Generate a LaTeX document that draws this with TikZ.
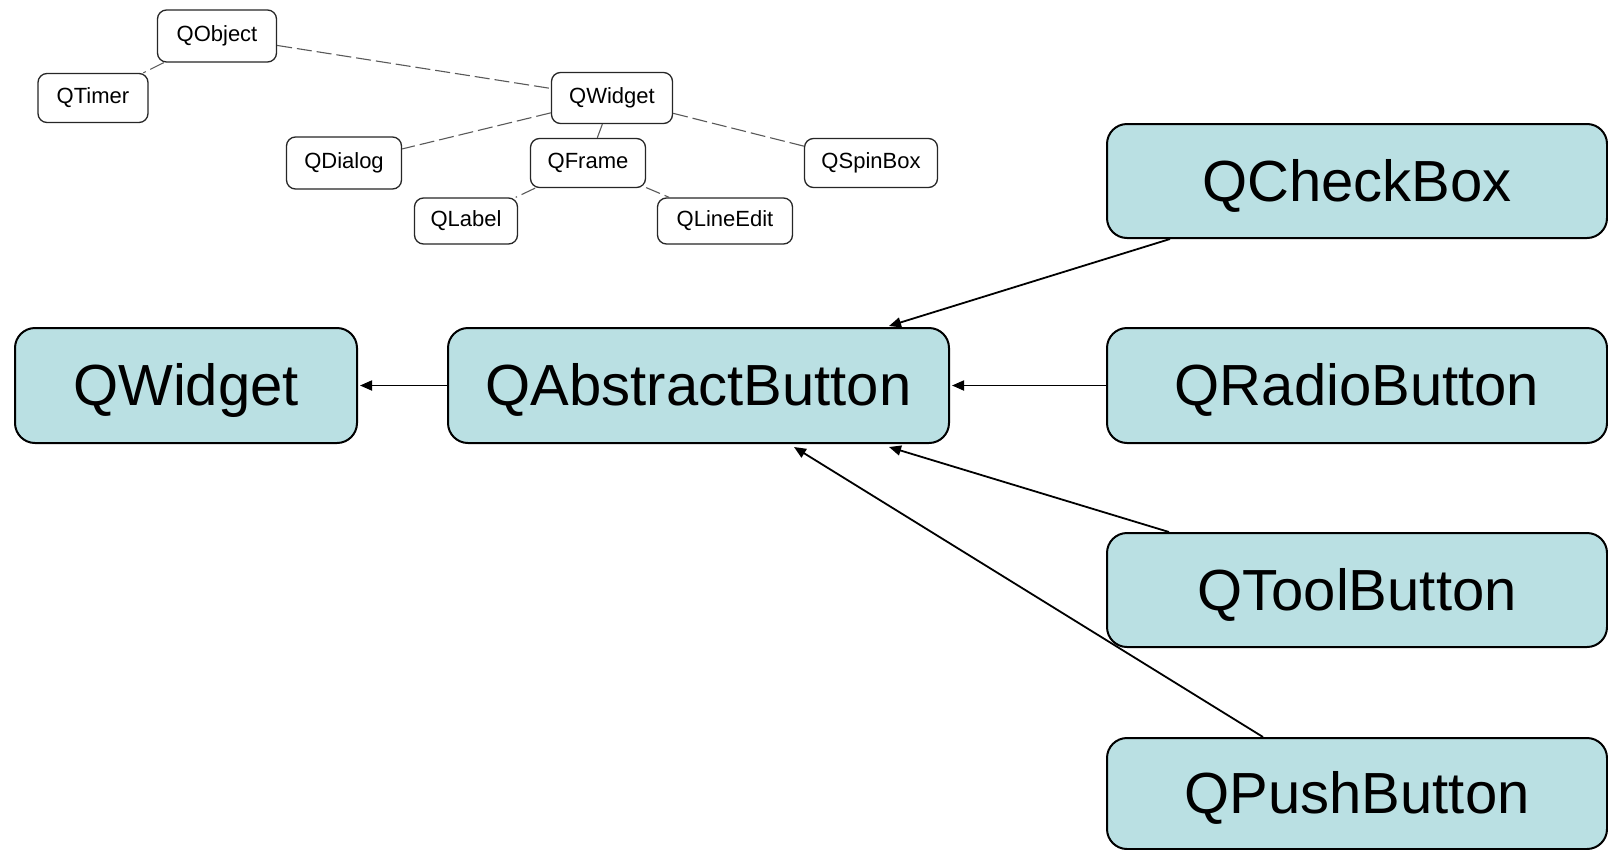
\documentclass[tikz,border=0pt]{standalone}
\usepackage{fontspec}
\setmainfont{Liberation Sans}
\usetikzlibrary{arrows.meta}
\definecolor{boxfill}{RGB}{186,224,227}
\tikzset{
  bigbox/.style={draw=black, line width=2pt, fill=boxfill, rounded corners=20pt,
    inner sep=0pt, anchor=north west, minimum height=115pt,
    text height=52.5pt, text depth=12.3pt,
    font=\fontsize{58}{60}\selectfont},
  smallbox/.style={draw=black!85, line width=1.3pt, fill=white, rounded corners=9pt,
    inner sep=0pt, font=\fontsize{22}{24}\selectfont},
  treeline/.style={draw=black!65, line width=1.1pt, dash pattern=on 15pt off 5pt},
  inherit/.style={draw=black, line width=1.8pt, -{Triangle[length=12pt,width=10pt]}}
}
\begin{document}
\begin{tikzpicture}[x=1pt,y=1pt]
\useasboundingbox (0,0) rectangle (1608,-849);
% small tree
\node[smallbox, minimum width=119pt, minimum height=52pt] (tobject) at (217,-36) {QObject};
\node[smallbox, minimum width=110pt, minimum height=49pt] (ttimer) at (93,-98) {QTimer};
\node[smallbox, minimum width=121pt, minimum height=51pt] (twidget) at (612,-98) {QWidget};
\node[smallbox, minimum width=115pt, minimum height=52pt] (tdialog) at (344,-163) {QDialog};
\node[smallbox, minimum width=115pt, minimum height=49pt] (tframe) at (588,-163) {QFrame};
\node[smallbox, minimum width=133pt, minimum height=49pt] (tspin) at (871,-163) {QSpinBox};
\node[smallbox, minimum width=103pt, minimum height=46pt] (tlabel) at (466,-221) {QLabel};
\node[smallbox, minimum width=135pt, minimum height=46pt] (tline) at (725,-221) {QLineEdit};
\draw[treeline] (tobject) -- (ttimer);
\draw[treeline] (tobject) -- (twidget);
\draw[treeline] (twidget) -- (tdialog);
\draw[treeline] (twidget) -- (tframe);
\draw[treeline] (twidget) -- (tspin);
\draw[treeline] (tframe) -- (tlabel);
\draw[treeline] (tframe) -- (tline);
% main diagram
\node[bigbox, minimum width=342pt] (widget) at (14,-327) {QWidget};
\node[bigbox, minimum width=501pt] (abstract) at (447,-327) {QAbstractButton};
\node[bigbox, minimum width=500pt, minimum height=114pt] (check) at (1106,-123) {QCheckBox};
\node[bigbox, minimum width=500pt] (radio) at (1106,-327) {QRadioButton};
\node[bigbox, minimum width=500pt, minimum height=114pt] (tool) at (1106,-532) {QToolButton};
\node[bigbox, minimum width=500pt, minimum height=111pt] (push) at (1106,-737) {QPushButton};
\draw[inherit] (abstract.west) -- ([xshift=2pt]widget.east);
\draw[inherit] (radio.west) -- ([xshift=2pt]abstract.east);
\draw[inherit] ([xshift=64pt]check.south west) -- ([xshift=-61pt,yshift=1pt]abstract.north east);
\draw[inherit] ([xshift=63pt]tool.north west) -- ([xshift=-61pt,yshift=-3pt]abstract.south east);
\draw[inherit] ([xshift=157pt]push.north west) -- ([xshift=-156pt,yshift=-3pt]abstract.south east);
\end{tikzpicture}
\end{document}
